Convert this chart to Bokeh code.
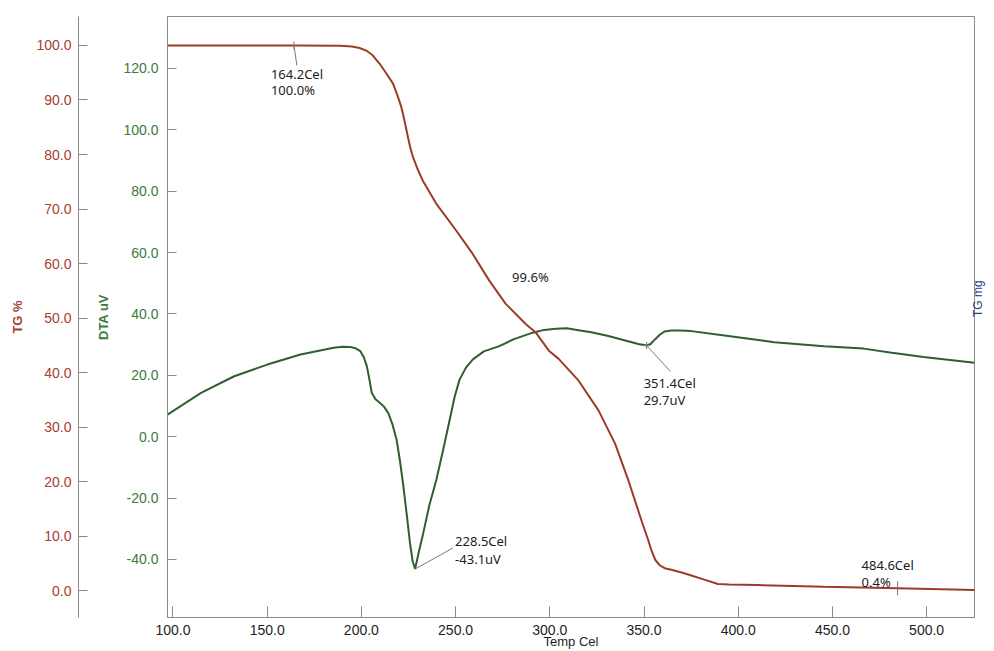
import math
from bokeh.plotting import figure
from bokeh.models import Range1d, LinearAxis, FixedTicker, PrintfTickFormatter, ColumnDataSource
from bokeh.core.properties import value
from bokeh.embed import file_html
from bokeh.resources import INLINE

# ---- TG curve (mass %, left outer axis) ----
temp_tg = [97.1, 120.0, 164.2, 188.7, 195.0, 199.0, 203.0, 206.0, 209.8, 213.0, 216.8,
           219.0, 221.2, 223.0, 224.7, 226.0, 227.4, 230.0, 232.6, 239.7, 250.2, 259.0,
           267.8, 276.6, 287.2, 292.4, 299.5, 304.7, 315.3, 325.9, 334.7, 341.7, 348.7,
           352.0, 354.0, 356.0, 358.4, 361.0, 364.5, 370.0, 375.1, 382.0, 389.2, 395.0,
           410.3, 445.5, 484.6, 525.4]
tg = [100.0, 100.0, 100.0, 99.95, 99.8, 99.55, 99.0, 98.2, 96.6, 95.0, 93.0,
      91.0, 88.7, 86.0, 83.2, 81.2, 79.5, 77.2, 75.2, 71.0, 66.1, 61.8,
      56.9, 52.6, 48.9, 47.4, 44.0, 42.5, 38.5, 33.0, 26.9, 20.2, 12.8,
      9.5, 7.3, 5.6, 4.6, 4.1, 3.8, 3.3, 2.75, 2.0, 1.2, 1.1,
      1.0, 0.7, 0.4, 0.1]

# ---- DTA curve (uV, left inner axis) ----
temp_dta = [97.1, 114.9, 132.5, 150.1, 167.7, 185.3, 190.0, 194.1, 197.0, 199.4, 201.2,
            202.9, 204.3, 205.5, 207.5, 209.9, 212.0, 214.3, 216.5, 218.7, 220.5, 222.3,
            224.0, 225.8, 227.2, 228.5, 230.5, 232.8, 236.0, 239.8, 243.5, 246.9, 249.5,
            252.1, 255.5, 259.2, 265.0, 273.2, 281.0, 290.9, 297.0, 303.2, 309.0, 315.3,
            322.0, 331.1, 341.0, 347.0, 351.4, 353.5, 355.8, 358.5, 361.0, 364.5, 369.0,
            375.1, 392.7, 419.1, 445.5, 466.6, 480.6, 498.3, 525.4]
dta = [7.2, 14.3, 19.7, 23.5, 26.8, 29.0, 29.3, 29.2, 28.8, 27.9, 26.0,
       23.0, 18.5, 14.3, 12.2, 11.0, 9.8, 7.7, 4.0, -1.0, -8.0, -16.2,
       -25.0, -34.7, -40.5, -43.1, -37.5, -31.5, -22.5, -14.0, -4.0, 5.6, 13.0,
       18.6, 22.5, 25.2, 27.8, 29.5, 31.8, 33.9, 34.8, 35.2, 35.3, 34.7,
       34.0, 32.8, 31.2, 30.2, 29.7, 30.2, 31.7, 33.3, 34.3, 34.6, 34.6,
       34.4, 33.0, 30.8, 29.5, 28.7, 27.4, 26.0, 24.1]

# ---- ticks ----
x_ticks = [100, 150, 200, 250, 300, 350, 400, 450, 500]
tg_ticks = [0, 10, 20, 30, 40, 50, 60, 70, 80, 90, 100]
dta_ticks = [-40, -20, 0, 20, 40, 60, 80, 100, 120]

# ---- marked points ----
mark_temp = [164.2, 228.5, 351.4, 484.6]
mark_val = [100.0, -43.1, 29.7, 0.4]
mark_axis = ["tg", "dta", "dta", "tg"]

X_RANGE = (97.1, 525.4)
DTA_RANGE = (-58.9, 136.9)
TG_RANGE = (-4.95, 105.32)
FRAME_W, FRAME_H = 810, 601

TG_COLOR = "#9c3c28"
TG_TEXT = "#a4412f"
DTA_COLOR = "#2f5f30"
DTA_TEXT = "#3b7a3b"
GRAY = "#8a8a8a"
LABEL_FONT = "Liberation Sans"
NOTE_FONT = "Noto Sans"

p = figure(width=994, height=651, output_backend="svg", toolbar_location=None,
           x_range=Range1d(*X_RANGE), y_range=Range1d(*DTA_RANGE),
           min_border_left=167, min_border_right=17, min_border_top=16, min_border_bottom=34)
p.extra_y_ranges = {"tg": Range1d(*TG_RANGE)}
p.grid.visible = False
p.outline_line_color = GRAY
p.background_fill_color = "white"
p.border_fill_color = "white"

# pixels per data unit, used for placing the note offsets
sx = FRAME_W / (X_RANGE[1] - X_RANGE[0])
s_axis = {"dta": FRAME_H / (DTA_RANGE[1] - DTA_RANGE[0]),
          "tg": FRAME_H / (TG_RANGE[1] - TG_RANGE[0])}


def style_axis(ax, ticks, color, tick_len):
    ax.ticker = FixedTicker(ticks=ticks)
    ax.formatter = PrintfTickFormatter(format="%.1f")
    ax.major_tick_in = tick_len
    ax.major_tick_out = 0
    ax.minor_tick_in = 0
    ax.minor_tick_out = 0
    ax.axis_line_color = GRAY
    ax.major_tick_line_color = GRAY
    ax.major_label_text_font = LABEL_FONT
    ax.major_label_text_font_size = "14px"
    ax.major_label_text_color = color


# x axis
xa = p.xaxis[0]
style_axis(xa, x_ticks, "#1e1e1e", 11)
xa.major_label_standoff = 7
xa.axis_label = "Temp Cel"
xa.axis_label_text_font = LABEL_FONT
xa.axis_label_text_font_size = "13px"
xa.axis_label_text_font_style = "normal"
xa.axis_label_text_color = "#1e1e1e"
xa.axis_label_standoff = -4

# DTA axis (inner left)
da = p.yaxis[0]
style_axis(da, dta_ticks, DTA_TEXT, 9)
da.major_label_standoff = 9
da.axis_label = "\nDTA uV"
da.axis_label_text_font = LABEL_FONT
da.axis_label_text_font_size = "13px"
da.axis_label_text_font_style = "bold"
da.axis_label_text_color = DTA_TEXT
da.axis_label_text_line_height = 1.0
da.axis_label_standoff = 9

# TG % axis (outer left)
ta = LinearAxis(y_range_name="tg")
style_axis(ta, tg_ticks, TG_TEXT, 9)
ta.major_label_standoff = 7
ta.axis_label = "TG %"
ta.axis_label_text_font = LABEL_FONT
ta.axis_label_text_font_size = "13px"
ta.axis_label_text_font_style = "bold"
ta.axis_label_text_color = TG_TEXT
ta.axis_label_standoff = 8
p.add_layout(ta, "left")

# TG mg axis (right, title only, read bottom to top)
ra = LinearAxis(y_range_name="tg", ticker=FixedTicker(ticks=[]))
ra.axis_line_color = None
ra.major_tick_in = 0
ra.major_tick_out = 0
ra.minor_tick_in = 0
ra.minor_tick_out = 0
ra.major_label_standoff = 0
ra.axis_label = "TG mg"
ra.axis_label_text_font = LABEL_FONT
ra.axis_label_text_font_size = "12px"
ra.axis_label_text_font_style = "normal"
ra.axis_label_text_color = "#2b3f86"
ra.axis_label_standoff = 3
try:
    ra.axis_label_orientation = math.pi / 2
except (AttributeError, ValueError):
    pass
p.add_layout(ra, "right")

# curves
p.line(temp_dta, dta, line_color=DTA_COLOR, line_width=2)
p.line(temp_tg, tg, line_color=TG_COLOR, line_width=2, y_range_name="tg")

# ---- point notes ----
# (leader end offset in px, text x offset, text y offsets) -- screen y grows downward
note_layout = [
    {"lead": (3, 20), "tick": 4, "cross": False, "tx": -23, "ty": (29, 45)},
    {"lead": (38, -21), "tick": 0, "cross": False, "tx": 40, "ty": (-28, -10)},
    {"lead": (24, 26), "tick": 0, "cross": True, "tx": -3, "ty": (37, 54)},
    {"lead": None, "tick": 7, "cross": False, "tx": -36, "ty": (-23, -6)},
]

for t, v, axn, lay in zip(mark_temp, mark_val, mark_axis, note_layout):
    rng = {} if axn == "dta" else {"y_range_name": "tg"}
    sy = s_axis[axn]
    unit = "uV" if axn == "dta" else "%"
    if lay["lead"] is not None:
        dx, dy = lay["lead"]
        p.segment(x0=[t], y0=[v], x1=[t + dx / sx], y1=[v - dy / sy],
                  line_color="#7a7a7a", line_width=1, **rng)
    if lay["tick"]:
        h = lay["tick"]
        p.segment(x0=[t], y0=[v + h / sy], x1=[t], y1=[v - h / sy],
                  line_color="#7a7a7a", line_width=1, **rng)
    if lay["cross"]:
        p.scatter([t], [v], marker="cross", size=7, line_color="#7a7a7a", line_width=1, **rng)
    src = ColumnDataSource(dict(
        x=[t, t], y=[v, v],
        txt=[f"{t:.1f}Cel", f"{v:.1f}{unit}"],
        yo=list(lay["ty"]),
    ))
    p.text(x="x", y="y", text="txt", source=src, x_offset=lay["tx"], y_offset="yo",
           text_font=value(NOTE_FONT), text_font_size="13px", text_color="#1c1c1c",
           text_align="left", text_baseline="middle", **rng)

# total mass loss between the first and last TG marks
loss = mark_val[0] - mark_val[3]
p.text(x=[280.0], y=[57.5], text=[f"{loss:.1f}%"], y_range_name="tg",
       text_font=value(NOTE_FONT), text_font_size="13px", text_color="#1c1c1c",
       text_align="left", text_baseline="middle")

open("out.html", "w").write(file_html(p, INLINE))
